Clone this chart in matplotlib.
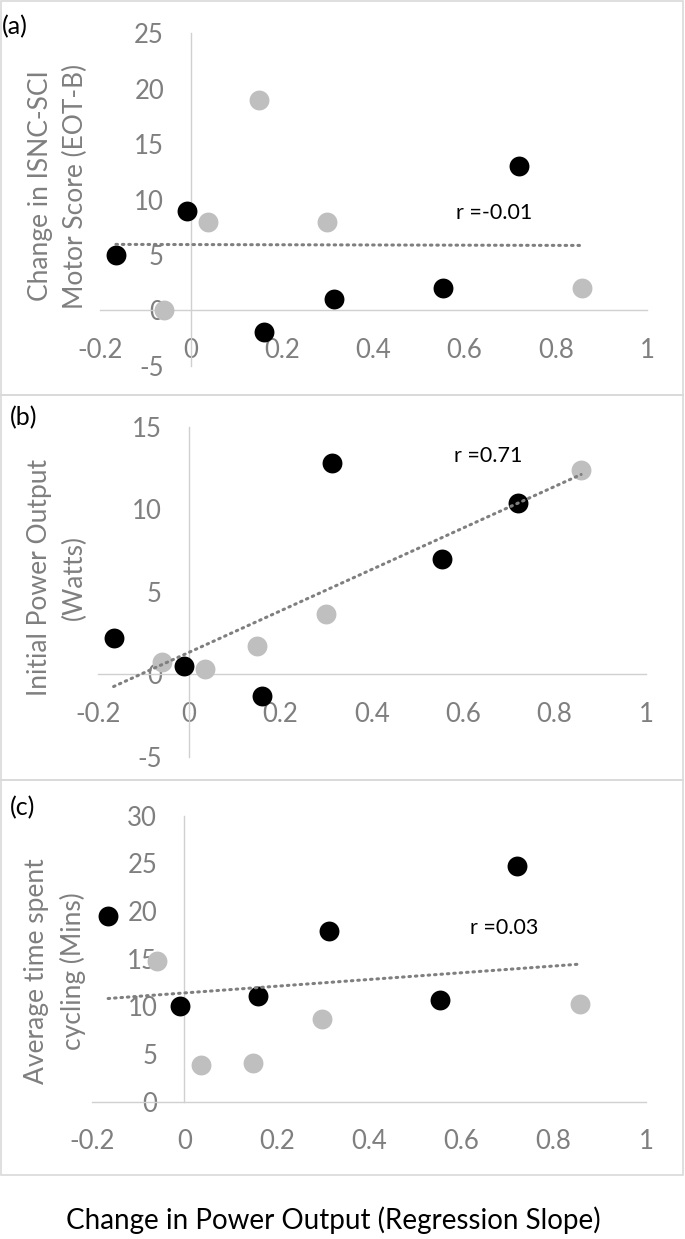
import matplotlib
matplotlib.use('Agg')
import numpy as np
import matplotlib.pyplot as plt
from matplotlib.patches import Rectangle

plt.rcParams['font.family'] = ['Lato', 'DejaVu Sans']

# x: change in power output (regression slope), same participants in all panels
slope_black = [-0.165, -0.01, 0.16, 0.313, 0.553, 0.72]
slope_grey = [-0.06, 0.036, 0.148, 0.299, 0.858]

# (a) change in ISNC-SCI motor score
motor_black = [5, 9, -2, 1, 2, 13]
motor_grey = [0, 8, 19, 8, 2]

# (b) initial power output (W)
power_black = [2.2, 0.5, -1.3, 12.8, 7.0, 10.4]
power_grey = [0.75, 0.3, 1.7, 3.65, 12.4]

# (c) average time spent cycling (min)
time_black = [19.5, 10, 11.1, 17.9, 10.7, 24.7]
time_grey = [14.8, 3.8, 4.1, 8.7, 10.2]

x_ticks = [-0.2, 0, 0.2, 0.4, 0.6, 0.8, 1]
x_labels = ['-0.2', '0', '0.2', '0.4', '0.6', '0.8', '1']

r_labels = ['r =-0.01', 'r =0.71', 'r =0.03']
panel_tags = ['(a)', '(b)', '(c)']
y_titles = ['Change in ISNC-SCI\nMotor Score (EOT-B)',
            'Initial Power Output\n(Watts)',
            'Average time spent\ncycling (Mins)']

W, H = 685, 1239
fig = plt.figure(figsize=(W / 100, H / 100), dpi=100)

GREY_TXT = '#7f7f7f'
AXIS_C = '#d0d0d0'


def add_ax(left, top, right, bottom):
    return fig.add_axes([left / W, 1 - bottom / H, (right - left) / W, (bottom - top) / H])


# pixel boxes: panel border, axes box, label positions
panels = [
    dict(box=(1, 1, 683, 395), ax=(100, 33.3, 647, 365.7), ylim=(-5, 25), yt=range(-5, 26, 5),
         yx=58, yy=186, tag=(2, 27), rpos=(0.58, 8.8), y=(motor_black, motor_grey)),
    dict(box=(1, 395, 683, 780), ax=(97.6, 426.7, 646, 756.7), ylim=(-5, 15), yt=range(-5, 16, 5),
         yx=57, yy=577, tag=(10, 418), rpos=(0.58, 13.2), y=(power_black, power_grey)),
    dict(box=(1, 780, 683, 1175), ax=(92, 815.6, 646, 1101.7), ylim=(0, 30), yt=range(0, 31, 5),
         yx=55, yy=971, tag=(10, 808), rpos=(0.618, 18.2), y=(time_black, time_grey)),
]

x_all = np.array(slope_black + slope_grey)

for i, p in enumerate(panels):
    l, t, r, b = p['box']
    fig.add_artist(Rectangle((l / W, 1 - b / H), (r - l) / W, (b - t) / H,
                             transform=fig.transFigure, fill=False,
                             edgecolor='#d9d9d9', linewidth=1.2))

    ax = add_ax(*p['ax'])
    ax.set_xlim(-0.2, 1)
    ax.set_ylim(*p['ylim'])
    ax.patch.set_alpha(0)

    for s in ['top', 'right']:
        ax.spines[s].set_visible(False)
    for s in ['left', 'bottom']:
        ax.spines[s].set_position(('data', 0))
        ax.spines[s].set_color(AXIS_C)
        ax.spines[s].set_linewidth(1.0)

    ax.set_xticks(x_ticks)
    ax.set_xticklabels(x_labels)
    ax.set_yticks(list(p['yt']))
    ax.set_yticklabels([str(v) for v in p['yt']])
    ax.tick_params(axis='x', length=0, pad=20, labelsize=18.5, labelcolor=GREY_TXT)
    ax.tick_params(axis='y', length=0, pad=19.5, labelsize=18.5, labelcolor=GREY_TXT)

    y_black, y_grey = p['y']
    ax.scatter(slope_grey, y_grey, s=205, color='#bfbfbf', zorder=3, linewidths=0, clip_on=False)
    ax.scatter(slope_black, y_black, s=205, color='black', zorder=4, linewidths=0, clip_on=False)

    # linear trendline over all points
    y_all = np.array(list(y_black) + list(y_grey))
    k, c = np.polyfit(x_all, y_all, 1)
    xs = np.array([x_all.min(), x_all.max()])
    ax.plot(xs, k * xs + c, color='#7f7f7f', linewidth=2.2,
            linestyle=(0, (0.5, 1.6)), dash_capstyle='round', zorder=5)

    ax.text(p['rpos'][0], p['rpos'][1], r_labels[i], fontsize=15.5, color='black',
            ha='left', va='center')

    fig.text(p['yx'] / W, 1 - p['yy'] / H, y_titles[i], rotation=90, fontsize=19,
             color=GREY_TXT, ha='center', va='center', linespacing=1.5, multialignment='center')
    fig.text(p['tag'][0] / W, 1 - p['tag'][1] / H, panel_tags[i], fontsize=18,
             color='black', ha='left', va='center')

fig.text(333 / W, 1 - 1220 / H, 'Change in Power Output (Regression Slope)',
         fontsize=20, color='black', ha='center', va='center')

fig.savefig('out.png', dpi=100)
